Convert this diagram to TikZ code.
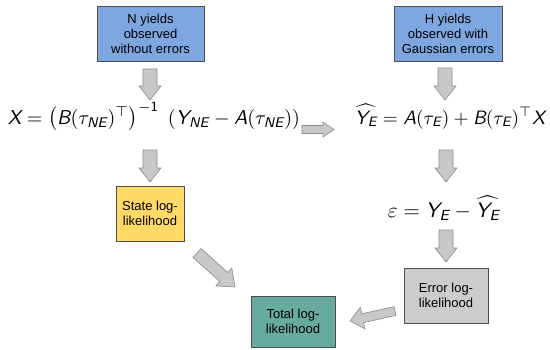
\documentclass[tikz,border=0pt]{standalone}
\usepackage{fontspec}
\setmainfont{Liberation Sans}
\usepackage{amsmath}
\usetikzlibrary{calc}
\definecolor{boxblue}{HTML}{7EA6E0}
\definecolor{boxyellow}{HTML}{FFD966}
\definecolor{boxteal}{HTML}{67AB9F}
\definecolor{boxgrey}{HTML}{CCCCCC}
\definecolor{boxline}{HTML}{4D4D4D}
\definecolor{arrfill}{HTML}{C8C8C8}
\definecolor{arrline}{HTML}{8A8A8A}
\newcommand\sv[1]{\text{\usefont{OT1}{cmss}{m}{sl}#1}}
\newcommand\su[1]{\text{\usefont{OT1}{cmss}{m}{n}#1}}
\tikzset{
  boxnode/.style={draw=boxline, line width=0.6pt, inner sep=0pt, align=center,
    font=\fontsize{13}{15}\selectfont},
  eqnode/.style={inner sep=0pt, anchor=base},
  blockarr/.style={fill=arrfill, draw=arrline, line width=0.6pt, line join=miter},
}
% block arrow from #1 to #2: shaft half width #3, head half width #4, head length #5
\newcommand\myblockarrow[5]{%
  \coordinate (hh) at ($(#2)!#5!(#1)$);
  \draw[blockarr] ($(#1)!#3!90:(#2)$) -- ($(hh)!#3!-90:(#1)$) -- ($(hh)!#4!-90:(#1)$)
     -- (#2) -- ($(hh)!#4!90:(#1)$) -- ($(hh)!#3!90:(#1)$) -- ($(#1)!#3!-90:(#2)$) -- cycle;
}
\begin{document}
\begin{tikzpicture}[x=1pt,y=-1pt]
\useasboundingbox (0,0) rectangle (550,349);
% boxes
\node[boxnode, fill=boxblue, minimum width=107pt, minimum height=55pt] (nyield) at (150.5,33.5)
  {N yields\\observed\\without errors};
\node[boxnode, fill=boxblue, minimum width=108pt, minimum height=55pt] (hyield) at (448,33.5)
  {H yields\\observed with\\Gaussian errors};
\node[boxnode, fill=boxyellow, minimum width=68pt, minimum height=55pt] (state) at (150,213.5)
  {State log-\\likelihood};
\node[boxnode, fill=boxgrey, minimum width=84pt, minimum height=55pt] (error) at (446,295.5)
  {Error log-\\likelihood};
\node[boxnode, fill=boxteal, minimum width=84pt, minimum height=51pt] (total) at (293,321.5)
  {Total log-\\likelihood};
% equations
\node[eqnode] (eqx) at (154,124) {\resizebox{292pt}{!}{$\sv{X}=\left(\sv{B}(\tau_{\sv{NE}})^{\top}\right)^{-\su{1}}\;(\sv{Y}_{\sv{NE}}-\sv{A}(\tau_{\sv{NE}}))$}};
\node[eqnode] (eqy) at (450,124) {\resizebox{190pt}{!}{$\widehat{\sv{Y}_{\sv{E}}}=\sv{A}(\tau_{\sv{E}})+\sv{B}(\tau_{\sv{E}})^{\top}\sv{X}$}};
\node[eqnode] (eqe) at (444,217.5) {\resizebox{112pt}{!}{$\varepsilon=\sv{Y}_{\sv{E}}-\widehat{\sv{Y}_{\sv{E}}}$}};
% arrow end points
\coordinate (a1s) at (150,69);  \coordinate (a1e) at (150,100);
\coordinate (a2s) at (445,68);  \coordinate (a2e) at (445,100);
\coordinate (a3s) at (302,129.5); \coordinate (a3e) at (334,129.5);
\coordinate (a4s) at (150,150); \coordinate (a4e) at (150,182);
\coordinate (a5s) at (446,150); \coordinate (a5e) at (446,182);
\coordinate (a6s) at (446,230); \coordinate (a6e) at (446,262);
\coordinate (a7s) at (197,253); \coordinate (a7e) at (235,287);
\coordinate (a8s) at (395,311); \coordinate (a8e) at (350,321);
\myblockarrow{a1s}{a1e}{7pt}{11pt}{14pt}
\myblockarrow{a2s}{a2e}{7pt}{11pt}{14pt}
\myblockarrow{a3s}{a3e}{4pt}{7.5pt}{11pt}
\myblockarrow{a4s}{a4e}{7pt}{11pt}{14pt}
\myblockarrow{a5s}{a5e}{7pt}{11pt}{14pt}
\myblockarrow{a6s}{a6e}{7pt}{11pt}{14pt}
\myblockarrow{a7s}{a7e}{6pt}{12pt}{15pt}
\myblockarrow{a8s}{a8e}{4.5pt}{11pt}{13pt}
\end{tikzpicture}
\end{document}
